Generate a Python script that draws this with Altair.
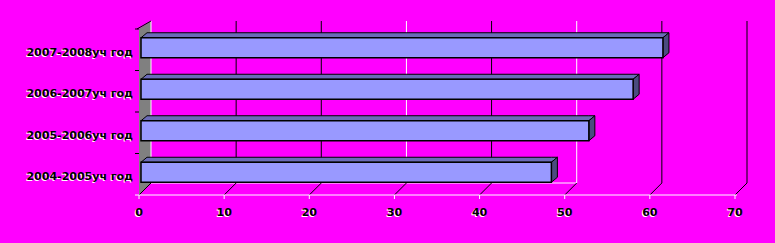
import altair as alt
import pandas as pd

# ---- data ----
categories = ["2004-2005уч год", "2005-2006уч год", "2006-2007уч год", "2007-2008уч год"]
values = [48.2, 52.6, 57.8, 61.3]
x_ticks = [0, 10, 20, 30, 40, 50, 60, 70]

# ---- geometry (pixel constants of the pseudo-3D frame) ----
W, H = 775, 243
X0, X1 = 139, 735          # front plane: x of 0 and 70
Y0, Y1 = 195, 29           # front plane: y of bottom and top
PXU = (X1 - X0) / 70.0
PXW = (Y0 - Y1) / 4.0


def du(px):
    return px / PXU


def dw(px):
    return px / PXW


DEPTH_X, DEPTH_Y_BOT, DEPTH_Y_TOP = 12, 12, 8
BAR_OFF = 2       # bar front face depth
BAR_DX, BAR_DY = 6, 5
BAR_HALF = 10

xs = alt.Scale(domain=[0, 70], range=[X0, X1])
ys = alt.Scale(domain=[0, 4], range=[Y0, Y1])

FACE = "#9999FF"
TOP = "#6B6BB8"
SIDE = "#4B4B80"
FONT = "DejaVu Sans"


def X(f="x"):
    return alt.X(f"{f}:Q", scale=xs, axis=None)


def Y(f="y"):
    return alt.Y(f"{f}:Q", scale=ys, axis=None)


# ---- wall ----
wall_df = pd.DataFrame({
    "x": [0, du(DEPTH_X)],
    "y": [4, 4 + dw(DEPTH_Y_TOP)],
    "y2": [0, dw(DEPTH_Y_BOT)],
})
wall = alt.Chart(wall_df).mark_area(color="#808080", orient="vertical").encode(
    x=X(), y=Y(), y2="y2:Q")

wall_top_df = pd.DataFrame({"x": [-du(2), du(DEPTH_X)], "y": [4, 4 + dw(DEPTH_Y_TOP)]})
wall_top = alt.Chart(wall_top_df).mark_line(color="black", strokeWidth=1).encode(x=X(), y=Y())

wall_back = alt.Chart(pd.DataFrame({"x": [du(DEPTH_X)], "y": [dw(DEPTH_Y_BOT)],
                                    "y2": [4 + dw(DEPTH_Y_TOP)]})).mark_rule(
    color="white", strokeWidth=1).encode(x=X(), y=Y(), y2="y2:Q")

# ---- back-wall gridlines ----
grid_df = pd.DataFrame({
    "v": x_ticks[1:],
    "c": ["black", "black", "white", "black", "white", "black", "black"],
})
grid_df["x"] = grid_df["v"] + du(DEPTH_X)
grid_df["y"] = dw(DEPTH_Y_BOT)
grid_df["y2"] = 4 + dw(DEPTH_Y_TOP)
grid = alt.Chart(grid_df).mark_rule(strokeWidth=1).encode(
    x=X(), y=Y(), y2="y2:Q", color=alt.Color("c:N", scale=None))

# ---- floor ----
diag_rows = []
for v in x_ticks:
    diag_rows.append({"v": v, "x": v, "y": 0})
    diag_rows.append({"v": v, "x": v + du(DEPTH_X), "y": dw(DEPTH_Y_BOT)})
diag = alt.Chart(pd.DataFrame(diag_rows)).mark_line(color="black", strokeWidth=1).encode(
    x=X(), y=Y(), detail="v:N")

back_floor = alt.Chart(pd.DataFrame({"x": [du(DEPTH_X)], "x2": [50 + du(DEPTH_X)],
                                     "y": [dw(DEPTH_Y_BOT)]})).mark_rule(
    color="white", strokeWidth=1).encode(x=X(), x2="x2:Q", y=Y())

front_floor = alt.Chart(pd.DataFrame({"x": [-du(4)], "x2": [70 + du(2)], "y": [0]})).mark_rule(
    color="white", strokeWidth=1).encode(x=X(), x2="x2:Q", y=Y())

xtick_df = pd.DataFrame({"x": x_ticks, "y": [0] * len(x_ticks), "y2": [-dw(4)] * len(x_ticks)})
xtick = alt.Chart(xtick_df).mark_rule(color="white", strokeWidth=1).encode(
    x=X(), y=Y(), y2="y2:Q")

ytick_df = pd.DataFrame({"y": [1, 2, 3, 4], "x": [-du(4)] * 4, "x2": [0] * 4})
ytick = alt.Chart(ytick_df).mark_rule(color="black", strokeWidth=1).encode(
    x=X(), x2="x2:Q", y=Y())

# ---- bars ----
front_rows, top_rows, side_rows = [], [], []
xf = du(BAR_OFF)
ddx, ddy = du(BAR_DX), dw(BAR_DY)
for i, (cat, v) in enumerate(zip(categories, values)):
    c = i + 0.5 + dw(BAR_OFF)
    yb, yt = c - dw(BAR_HALF), c + dw(BAR_HALF)
    xe = v + xf
    front_rows.append({"cat": cat, "x": xf, "x2": xe, "y": yb, "y2": yt})
    for (px, py, py2) in [(xf, yt, yt), (xf + ddx, yt + ddy, yt),
                          (xe, yt + ddy, yt), (xe + ddx, yt + ddy, yt + ddy)]:
        top_rows.append({"cat": cat, "x": px, "y": py, "y2": py2})
    for (px, py, py2) in [(xe, yt, yb), (xe + ddx, yt + ddy, yb + ddy)]:
        side_rows.append({"cat": cat, "x": px, "y": py, "y2": py2})

tops = alt.Chart(pd.DataFrame(top_rows)).mark_area(
    color=TOP, stroke="black", strokeWidth=1, orient="vertical").encode(
    x=X(), y=Y(), y2="y2:Q", detail="cat:N")
sides = alt.Chart(pd.DataFrame(side_rows)).mark_area(
    color=SIDE, stroke="black", strokeWidth=1, orient="vertical").encode(
    x=X(), y=Y(), y2="y2:Q", detail="cat:N")
fronts = alt.Chart(pd.DataFrame(front_rows)).mark_rect(
    color=FACE, stroke="black", strokeWidth=1.5).encode(
    x=X(), x2="x2:Q", y=Y(), y2="y2:Q")

# ---- labels ----
ylab_df = pd.DataFrame({"cat": categories, "x": [0] * 4, "y": [i + 0.5 for i in range(4)]})
ylab_shadow = alt.Chart(ylab_df).mark_text(
    align="right", baseline="middle", dx=-7, dy=4, font=FONT, fontSize=11,
    fontWeight="bold", color="white").encode(x=X(), y=Y(), text="cat:N")
ylab = alt.Chart(ylab_df).mark_text(
    align="right", baseline="middle", dx=-6, dy=3, font=FONT, fontSize=11,
    fontWeight="bold", color="black").encode(x=X(), y=Y(), text="cat:N")

xlab_df = pd.DataFrame({"v": x_ticks, "x": x_ticks, "y": [0] * len(x_ticks)})
xlab_shadow = alt.Chart(xlab_df).mark_text(
    align="center", baseline="middle", dx=-1, dy=19, font=FONT, fontSize=11,
    fontWeight="bold", color="white").encode(x=X(), y=Y(), text="v:Q")
xlab = alt.Chart(xlab_df).mark_text(
    align="center", baseline="middle", dx=0, dy=18, font=FONT, fontSize=11,
    fontWeight="bold", color="black").encode(x=X(), y=Y(), text="v:Q")

chart = alt.layer(
    wall, grid, wall_back, back_floor, diag, wall_top, front_floor, xtick, ytick,
    tops, sides, fronts,
    ylab_shadow, ylab, xlab_shadow, xlab,
).properties(
    width=W, height=H, autosize=alt.AutoSizeParams(type="none"), padding=0,
    background="#FF00FF",
).configure_view(stroke=None)

chart.save("out.html", embed_options={"renderer": "svg", "actions": False})
